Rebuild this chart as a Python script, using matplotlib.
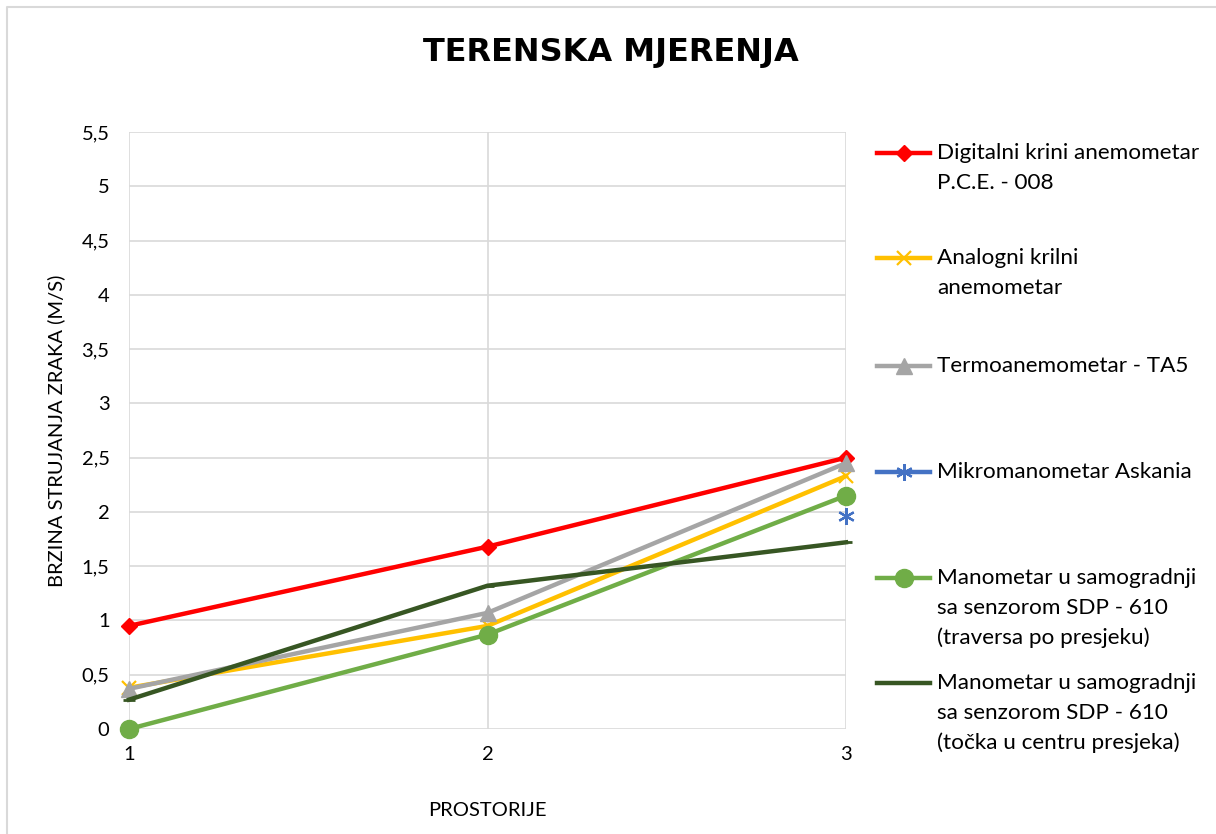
import matplotlib
matplotlib.use("Agg")
import matplotlib.pyplot as plt
from matplotlib.lines import Line2D

# data
prostorije = [1, 2, 3]
digitalni = [0.95, 1.68, 2.50]
analogni = [0.38, 0.95, 2.33]
termo = [0.37, 1.07, 2.45]
mikro = [None, None, 1.96]
sdp_traversa = [0.0, 0.87, 2.15]
sdp_tocka = [0.27, 1.32, 1.72]

labels = [
    "Digitalni krini anemometar\nP.C.E. - 008",
    "Analogni krilni\nanemometar",
    "Termoanemometar - TA5",
    "Mikromanometar Askania",
    "Manometar u samogradnji\nsa senzorom SDP - 610\n(traversa po presjeku)",
    "Manometar u samogradnji\nsa senzorom SDP - 610\n(točka u centru presjeka)",
]
y_ticks = [0, 0.5, 1, 1.5, 2, 2.5, 3, 3.5, 4, 4.5, 5, 5.5]

W, H = 1216, 834
fx = lambda x: x / W
fy = lambda y: 1 - y / H

plt.rcParams['font.family'] = ['Lato', 'DejaVu Sans']

fig = plt.figure(figsize=(W / 100, H / 100), dpi=100)
ax = fig.add_axes([fx(129), fy(729), fx(846) - fx(129), fy(132) - fy(729)])

styles = [
    dict(color='#FF0000', marker='D', ms=8, mec='#FF0000'),
    dict(color='#FFC000', marker='x', ms=10, mew=1.6),
    dict(color='#A5A5A5', marker='^', ms=11),
    dict(color='#4472C4', marker=(6, 2, 0), ms=12, mew=1.6),
    dict(color='#70AD47', marker='o', ms=13),
    dict(color='#375623', marker='_', ms=8, mew=2),
]
series = [digitalni, analogni, termo, mikro, sdp_traversa, sdp_tocka]

for vals, st in zip(series, styles):
    xs = [x for x, v in zip(prostorije, vals) if v is not None]
    vs = [v for v in vals if v is not None]
    ax.plot(xs, vs, lw=3.2, clip_on=False, zorder=3, **st)

ax.set_xlim(1, 3)
ax.set_ylim(0, 5.5)
ax.set_xticks(prostorije)
ax.set_yticks(y_ticks)
ax.set_yticklabels([f"{t:g}".replace('.', ',') for t in y_ticks])
ax.tick_params(length=0, labelsize=14.5, colors='#000000', pad=14)
ax.tick_params(axis='x', pad=12)
ax.grid(True, color='#D9D9D9', lw=1.2)
ax.set_axisbelow(True)
for s in ax.spines.values():
    s.set_visible(False)

ax.set_xlabel("PROSTORIJE", fontsize=14.5, labelpad=28)
ax.set_ylabel("BRZINA STRUJANJA ZRAKA (M/S)", fontsize=14.5, labelpad=12)

fig.text(fx(611), fy(52), "TERENSKA MJERENJA", fontsize=23, fontweight='bold',
         family='DejaVu Sans', ha='center', va='center')

# legend drawn as in the original (marker aligned with first line of text)
entry_y = [153, 258, 366, 472, 578, 683]
for lab, st, yy in zip(labels, styles, entry_y):
    fig.add_artist(Line2D([fx(877), fx(930)], [fy(yy), fy(yy)], lw=3.2,
                          color=st['color'], transform=fig.transFigure))
    mk = {k: v for k, v in st.items() if k != 'color'}
    fig.add_artist(Line2D([fx(903.5)], [fy(yy)], lw=0, color=st['color'],
                          transform=fig.transFigure, **mk))
    for i, line in enumerate(lab.split('\n')):
        fig.text(fx(937), fy(yy + 30 * i), line, fontsize=16.2, ha='left', va='center')

# chart border
fig.add_artist(Line2D([fx(7), fx(7), fx(W + 5)], [fy(H + 5), fy(7), fy(7)],
                      color='#D9D9D9', lw=1.5, transform=fig.transFigure))

fig.savefig("out.png", dpi=100)
